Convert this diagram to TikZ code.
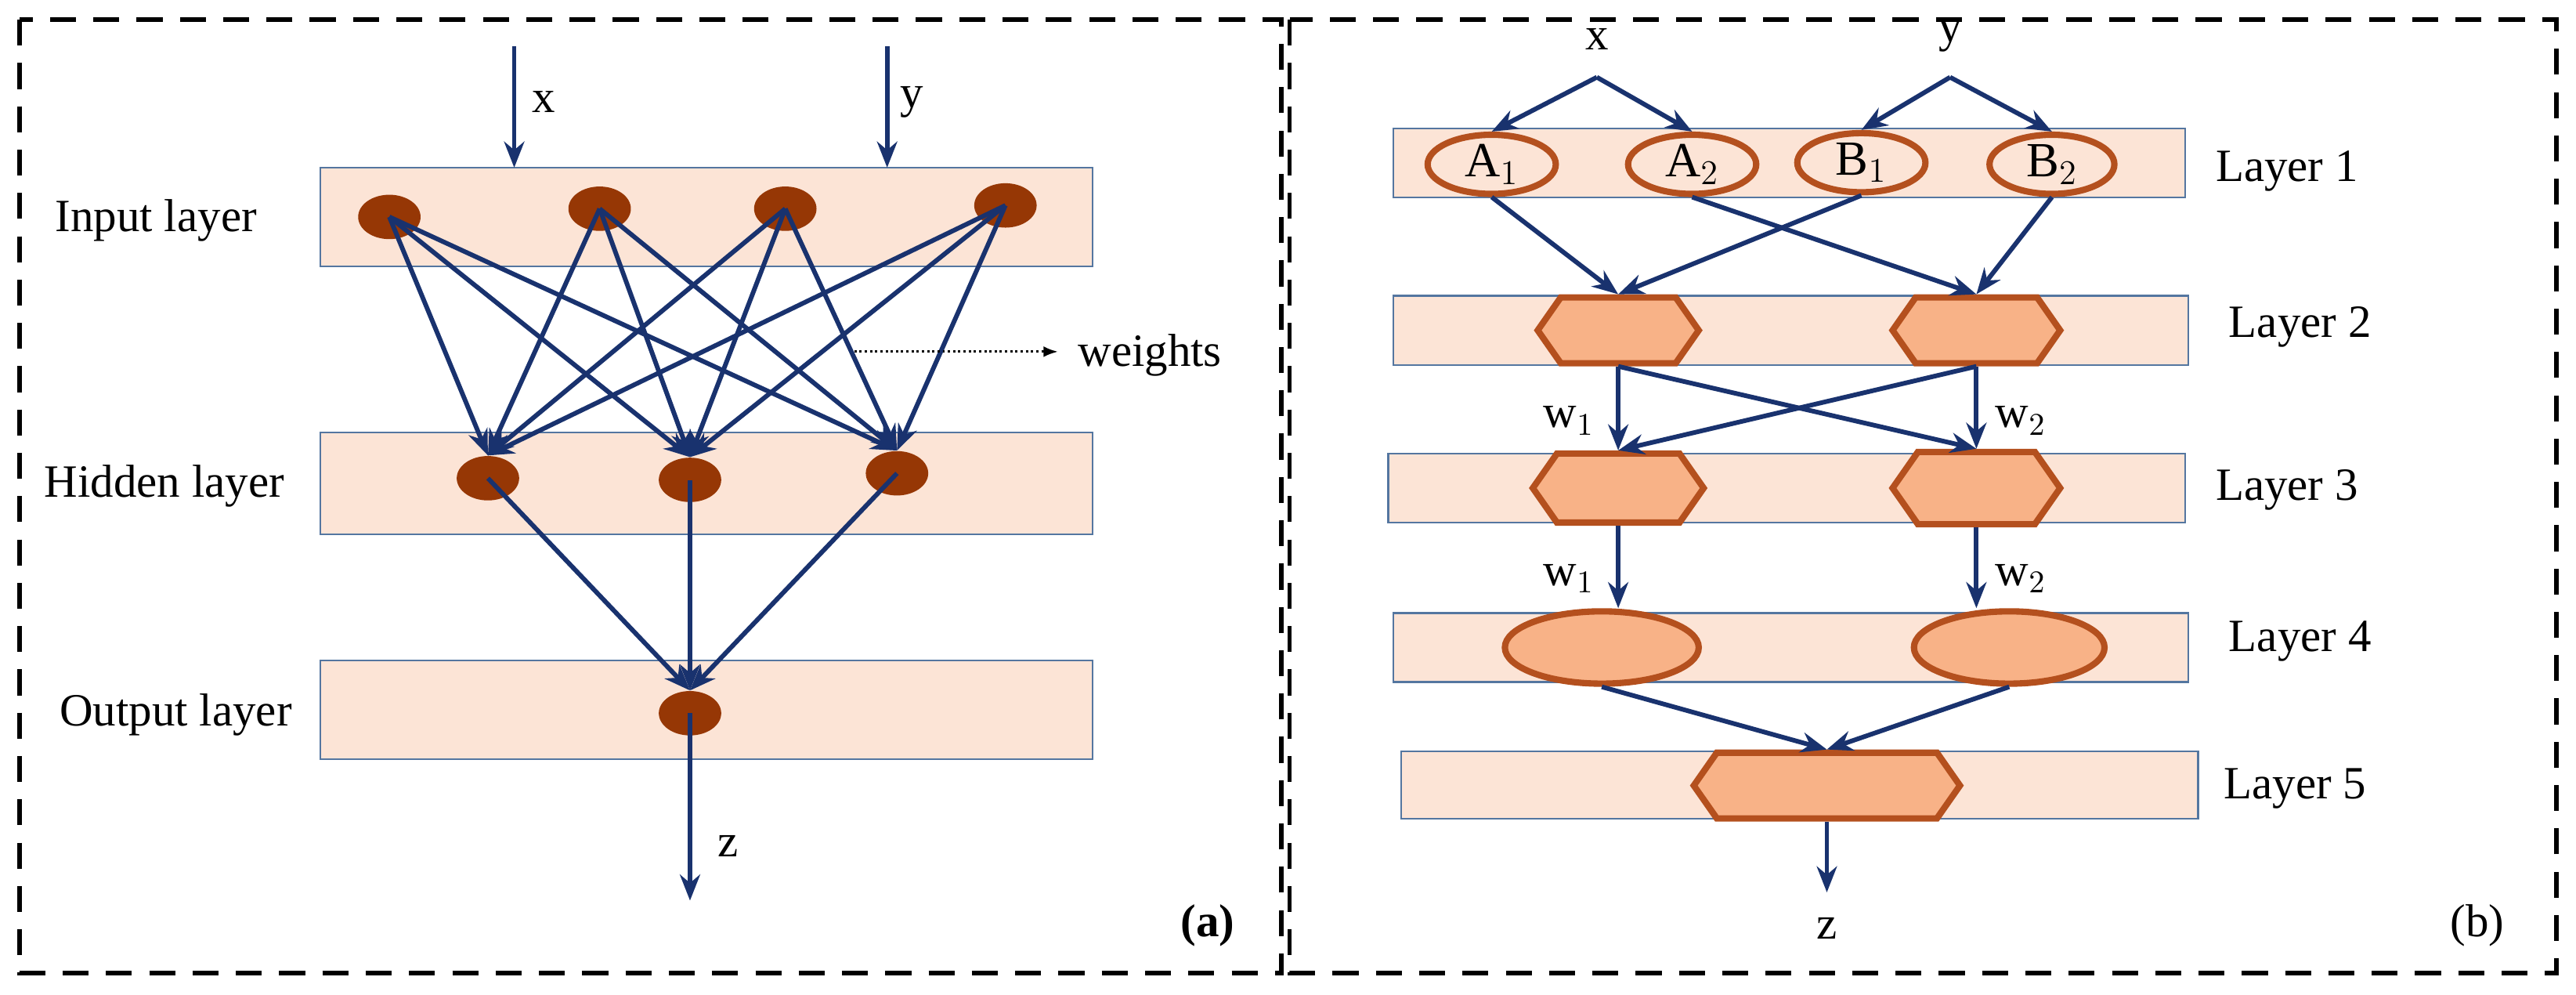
\documentclass[tikz,border=0pt]{standalone}
\usepackage{fontspec}
\setmainfont{Liberation Serif}
\usetikzlibrary{shapes.geometric,shapes.symbols,arrows.meta}

\definecolor{band}{RGB}{252,228,214}
\definecolor{bandline}{RGB}{84,118,160}
\definecolor{neuron}{RGB}{150,55,5}
\definecolor{cellfill}{RGB}{248,178,135}
\definecolor{cellline}{RGB}{180,80,30}
\definecolor{wire}{RGB}{25,50,110}

\newcommand{\pxu}{*0.02cm}
\tikzset{
  layer/.style={draw=bandline,fill=band,line width=0.6pt},
  neuron/.style={ellipse,fill=neuron,minimum width=38\pxu,minimum height=27\pxu,inner sep=0pt},
  cell/.style={ellipse,draw=cellline,fill=cellfill,line width=2.2pt,inner sep=0pt,font=\fontsize{17}{19}\selectfont},
  ring/.style={cell,fill=none},
  hexa/.style={signal,signal to=west and east,signal pointer angle=110,draw=cellline,fill=cellfill,line width=2.2pt,inner sep=0pt},
  wire/.style={draw=wire,line width=1.6pt,-{Stealth[length=9pt,width=7pt]}},
  lab/.style={font=\fontsize{16}{18}\selectfont},
  box/.style={line width=1.5pt,dash pattern=on 9pt off 6pt}
}

\begin{document}
\begin{tikzpicture}[x=0.02cm,y=-0.02cm]
\useasboundingbox (0,0) rectangle (1568,605);

% outer dashed frames
\draw[box] (12,12) rectangle (780,592);
\draw[box] (785,12) rectangle (1556,592);

% ---------- panel (a) ----------
\draw[layer] (195,102) rectangle (665,162);
\draw[layer] (195,263) rectangle (665,325);
\draw[layer] (195,402) rectangle (665,462);

\node[lab] at (95,134) {Input layer};
\node[lab] at (100,296) {Hidden layer};
\node[lab] at (107,435) {Output layer};

\node[neuron] (i1) at (237,132) {};
\node[neuron] (i2) at (365,127) {};
\node[neuron] (i3) at (478,127) {};
\node[neuron] (i4) at (612,125) {};
\node[neuron] (h1) at (297,291) {};
\node[neuron] (h2) at (420,292) {};
\node[neuron] (h3) at (546,288) {};
\node[neuron] (o) at (420,434) {};

\coordinate (xin) at (313,28);
\coordinate (yin) at (540,28);
\coordinate (xend) at (313,102);
\coordinate (yend) at (540,102);
\draw[wire] (xin) -- (xend);
\draw[wire] (yin) -- (yend);
\node[lab] at (331,62) {x};
\node[lab] at (555,62) {y};

\foreach \a in {1,2,3,4}
  \foreach \b in {1,2,3}
    \draw[wire] (i\a.center) -- (h\b.north);
\foreach \b in {1,2,3}
  \draw[wire] (h\b.center) -- (o.north);

\coordinate (wa) at (520,214);
\coordinate (wb) at (644,214);
\draw[densely dotted,line width=0.8pt,-{Latex[length=5pt]}] (wa) -- (wb);
\node[lab,anchor=west] at (650,216) {weights};

\coordinate (zend) at (420,548);
\draw[wire] (o.center) -- (zend);
\node[lab] at (443,515) {z};
\node[lab,font=\fontsize{16}{18}\selectfont\bfseries] at (735,563) {(a)};

% ---------- panel (b) ----------
\draw[layer] (848,78) rectangle (1330,120);
\draw[layer] (848,180) rectangle (1332,222);
\draw[layer] (845,276) rectangle (1330,318);
\draw[layer] (848,373) rectangle (1332,415);
\draw[layer] (853,457) rectangle (1338,498);

\node[lab] at (1392,104) {Layer 1};
\node[lab] at (1400,199) {Layer 2};
\node[lab] at (1392,298) {Layer 3};
\node[lab] at (1400,390) {Layer 4};
\node[lab] at (1397,480) {Layer 5};

\node[ring,minimum width=78\pxu,minimum height=36\pxu] (a1) at (908,100) {A$_1$};
\node[ring,minimum width=78\pxu,minimum height=36\pxu] (a2) at (1030,100) {A$_2$};
\node[ring,minimum width=78\pxu,minimum height=36\pxu] (b1) at (1133,99) {B$_1$};
\node[ring,minimum width=76\pxu,minimum height=36\pxu] (b2) at (1249,100) {B$_2$};

\node[hexa,minimum width=98\pxu,minimum height=40\pxu] (p1) at (985,201) {};
\node[hexa,minimum width=102\pxu,minimum height=40\pxu] (p2) at (1203,201) {};
\node[hexa,minimum width=104\pxu,minimum height=42\pxu] (q1) at (985,297) {};
\node[hexa,minimum width=102\pxu,minimum height=44\pxu] (q2) at (1203,297) {};
\node[cell,minimum width=118\pxu,minimum height=44\pxu] (r1) at (975,394) {};
\node[cell,minimum width=116\pxu,minimum height=44\pxu] (r2) at (1223,394) {};
\node[hexa,minimum width=162\pxu,minimum height=40\pxu] (s) at (1112,478) {};

\coordinate (xtop) at (972,47);
\coordinate (ytop) at (1187,47);
\node[lab] at (972,24) {x};
\node[lab] at (1187,22) {y};
\draw[wire] (xtop) -- (a1.north);
\draw[wire] (xtop) -- (a2.north);
\draw[wire] (ytop) -- (b1.north);
\draw[wire] (ytop) -- (b2.north);

\draw[wire] (a1.south) -- (p1.north);
\draw[wire] (b1.south) -- (p1.north);
\draw[wire] (a2.south) -- (p2.north);
\draw[wire] (b2.south) -- (p2.north);

\draw[wire] (p1.south) -- (q1.north);
\draw[wire] (p1.south) -- (q2.north);
\draw[wire] (p2.south) -- (q1.north);
\draw[wire] (p2.south) -- (q2.north);
\node[lab] at (955,256) {w$_1$};
\node[lab] at (1230,256) {w$_2$};

\draw[wire] (q1.south) -- (r1.north-|q1.south);
\draw[wire] (q2.south) -- (r2.north-|q2.south);
\node[lab] at (955,352) {w$_1$};
\node[lab] at (1230,352) {w$_2$};

\draw[wire] (r1.south) -- (s.north);
\draw[wire] (r2.south) -- (s.north);

\coordinate (zout) at (1112,543);
\draw[wire] (s.south) -- (zout);
\node[lab] at (1112,565) {z};
\node[lab] at (1508,563) {(b)};
\end{tikzpicture}
\end{document}
